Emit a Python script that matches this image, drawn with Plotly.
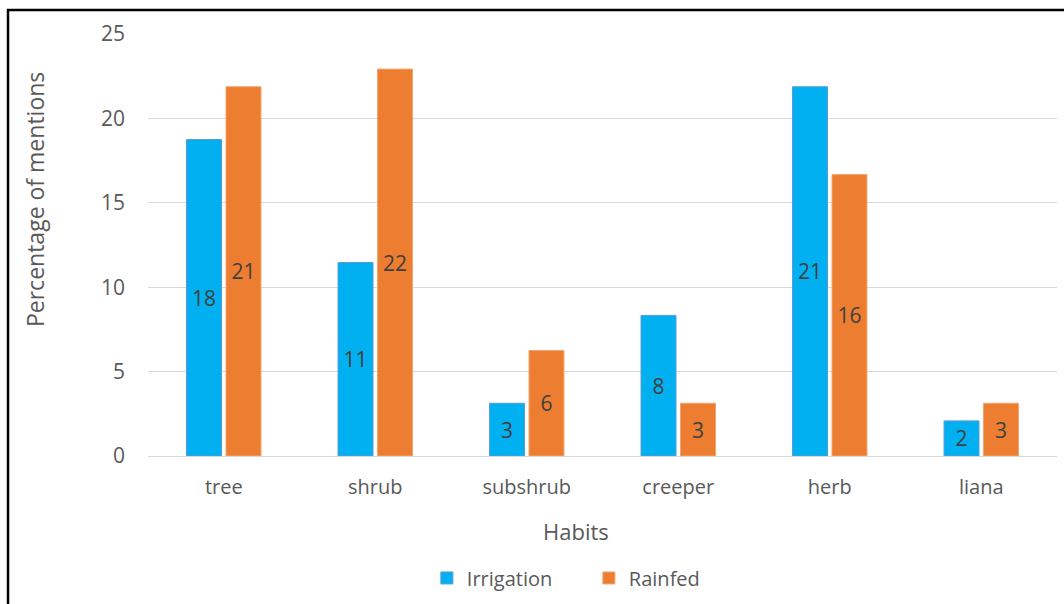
import plotly.graph_objects as go

categories = ["tree", "shrub", "subshrub", "creeper", "herb", "liana"]
irrigation = [18.75, 11.46, 3.125, 8.33, 21.875, 2.08]
rainfed = [21.875, 22.92, 6.25, 3.125, 16.67, 3.125]
irrigation_labels = ["18", "11", "3", "8", "21", "2"]
rainfed_labels = ["21", "22", "6", "3", "16", "3"]
y_ticks = [0, 5, 10, 15, 20, 25]

FONT = "Open Sans, DejaVu Sans, sans-serif"

fig = go.Figure()
fig.add_trace(go.Bar(
    name="Irrigation", x=categories, y=irrigation, text=irrigation_labels,
    textposition="inside", insidetextanchor="middle", constraintext="none",
    textfont=dict(size=21, color="#404040", family=FONT),
    marker=dict(color="#00B0F0", line=dict(color="#5B9BD5", width=1)),
))
fig.add_trace(go.Bar(
    name="Rainfed", x=categories, y=rainfed, text=rainfed_labels,
    textposition="inside", insidetextanchor="middle", constraintext="none",
    textfont=dict(size=21, color="#404040", family=FONT),
    marker=dict(color="#ED7D31", line=dict(color="#F4A46E", width=1)),
))

fig.update_layout(
    width=1064, height=604,
    margin=dict(l=148, r=7, t=34, b=148),
    paper_bgcolor="white", plot_bgcolor="white",
    font=dict(family=FONT, color="#595959", size=20),
    barmode="group", bargap=0.479, bargroupgap=0.114,
    showlegend=True,
    legend=dict(orientation="h", x=0.485, xanchor="center", y=-0.289, yanchor="middle",
                font=dict(size=20, color="#595959"), itemwidth=30, tracegroupgap=0,
                entrywidth=117),
    xaxis=dict(
        showgrid=False, showline=False, zeroline=False,
        ticks="", ticklabelstandoff=17, tickfont=dict(size=20),
    ),
    yaxis=dict(
        range=[0, 25], tickvals=y_ticks, showgrid=True, gridcolor="#D9D9D9", gridwidth=1,
        zeroline=True, zerolinecolor="#D9D9D9", zerolinewidth=1, showline=False,
        ticks="", ticklabelstandoff=22, tickfont=dict(size=21),
    ),
    annotations=[
        dict(text="Habits", xref="paper", yref="paper", x=0.471, y=-0.178,
             xanchor="center", yanchor="middle", showarrow=False,
             font=dict(size=22, color="#595959")),
        dict(text="Percentage of mentions", xref="paper", yref="paper", x=-0.1243, y=0.6066,
             xanchor="center", yanchor="middle", showarrow=False, textangle=-90,
             font=dict(size=23, color="#595959")),
    ],
    shapes=[dict(type="rect", xref="paper", yref="paper",
                 x0=-0.154, x1=1.05, y0=-0.45, y1=1.0569,
                 line=dict(color="black", width=2.5), fillcolor="rgba(0,0,0,0)",
                 layer="above")],
)

fig.write_html("out.html")
